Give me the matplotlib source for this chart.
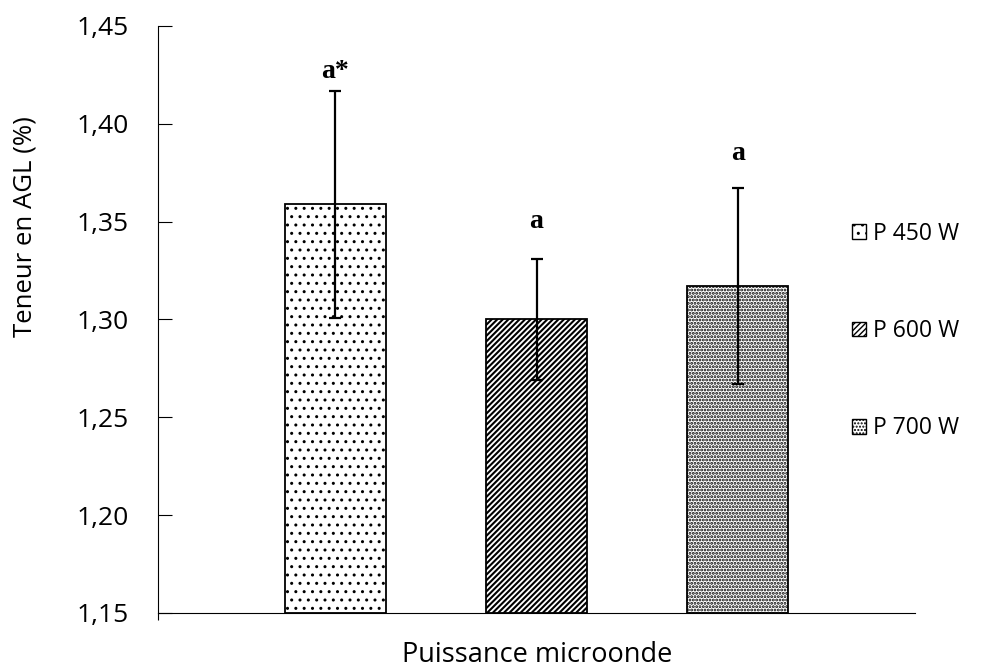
import matplotlib.pyplot as plt
from matplotlib.patches import Patch
from matplotlib.ticker import FuncFormatter

plt.rcParams['font.family'] = ['Open Sans', 'DejaVu Sans']

# data
series = ["P 450 W", "P 600 W", "P 700 W"]
values = [1.359, 1.300, 1.317]
errors = [0.058, 0.031, 0.050]
letters = ["a*", "a", "a"]
letter_y = [1.427, 1.350, 1.385]
hatches = ['..', '//////', '.....']
hatch_lw = [1.0, 1.5, 1.4]
yticks = [1.15, 1.20, 1.25, 1.30, 1.35, 1.40, 1.45]


def make_patch(h, lw, **kw):
    # hatch width is taken from rcParams when the patch is built
    with plt.rc_context({'hatch.linewidth': lw}):
        p = Patch(facecolor='white', edgecolor='black', hatch=h, **kw)
    if hasattr(p, 'set_hatch_linewidth'):
        p.set_hatch_linewidth(lw)
    return p


fig = plt.figure(figsize=(9.9, 6.68), dpi=100)
ax = fig.add_axes([158/990, 1 - 613/668, (915-158)/990, (613-26)/668])

xs = list(range(len(series)))
for x, v, e, h, lw, lab in zip(xs, values, errors, hatches, hatch_lw, series):
    with plt.rc_context({'hatch.linewidth': lw}):
        bars = ax.bar(x, v - 1.15, bottom=1.15, width=0.5, color='white', edgecolor='black',
                      hatch=h, linewidth=1.3, label=lab)
    for b in bars:
        if hasattr(b, 'set_hatch_linewidth'):
            b.set_hatch_linewidth(lw)
    ax.errorbar(x, v, yerr=e, fmt='none', ecolor='black', elinewidth=1.6,
                capsize=4, capthick=1.6)

for x, t, ty in zip(xs, letters, letter_y):
    ax.text(x, ty, t, ha='center', va='center', fontsize=20, fontweight='bold',
            family='Liberation Serif')

ax.set_ylim(1.15, 1.45)
ax.set_xlim(-0.88, 2.88)
ax.set_yticks(yticks)
ax.yaxis.set_major_formatter(FuncFormatter(lambda v, p: f"{v:.2f}".replace('.', ',')))
ax.tick_params(axis='y', direction='in', length=10, labelsize=19, pad=21)
ax.set_xticks([-0.88])
ax.set_xticklabels([])
ax.tick_params(axis='x', direction='out', length=5)
for s in ['top', 'right']:
    ax.spines[s].set_visible(False)

fig.text(25/990, 1 - 227/668, "Teneur en AGL (%)", rotation=90, ha='center', va='center',
         fontsize=18.5)
fig.text(537/990, 1 - 655/668, "Puissance microonde", ha='center', va='center', fontsize=19.5)

handles = [make_patch(h, lw, label=lab) for h, lw, lab in zip(hatches, hatch_lw, series)]
fig.legend(handles=handles, loc='center left', bbox_to_anchor=(852/990, 1 - 331/668),
           frameon=False, fontsize=16.5, handlelength=0.6, handleheight=0.6,
           handletextpad=0.3, labelspacing=3.2, borderpad=0, borderaxespad=0)

fig.savefig("out.png", dpi=100)
